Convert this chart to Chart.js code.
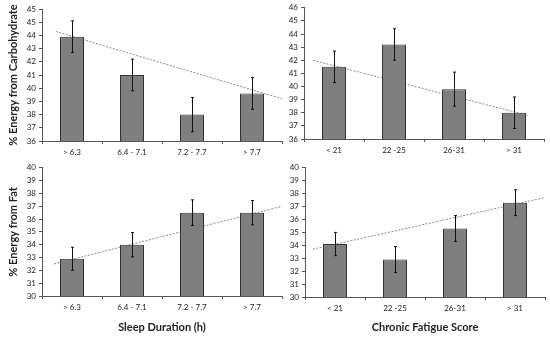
<!DOCTYPE html>
<html>
<head>
<meta charset="utf-8">
<script src="https://cdn.jsdelivr.net/npm/chart.js@4.4.0/dist/chart.umd.min.js"></script>
<style>
  body { margin: 0; background: #fff; }
  .box { position: absolute; }
</style>
</head>
<body>
<div class="box" style="left:0;top:0;width:286px;height:160px"><canvas id="c1"></canvas></div>
<div class="box" style="left:282px;top:0;width:268px;height:160px"><canvas id="c2"></canvas></div>
<div class="box" style="left:0;top:160px;width:286px;height:178px"><canvas id="c3"></canvas></div>
<div class="box" style="left:282px;top:160px;width:268px;height:178px"><canvas id="c4"></canvas></div>
<script>
// categories
const sleepCats = ["> 6.3", "6.4 - 7.1", "7.2 - 7.7", "> 7.7"];
const fatigueCats = ["< 21", "22 -25", "26-31", "> 31"];

// % energy from carbohydrate
const carbSleep = [43.9, 41.0, 38.0, 39.6];
const carbSleepErr = [1.2, 1.2, 1.3, 1.2];
const carbSleepTrend = [{ x: -0.27, y: 44.3 }, { x: 3.5, y: 39.2 }];
const carbFatigue = [41.5, 43.2, 39.8, 38.0];
const carbFatigueErr = [1.2, 1.2, 1.3, 1.2];
const carbFatigueTrend = [{ x: -0.35, y: 42.0 }, { x: 3.23, y: 37.8 }];

// % energy from fat
const fatSleep = [32.9, 34.0, 36.5, 36.5];
const fatSleepErr = [0.9, 0.95, 1.0, 0.95];
const fatSleepTrend = [{ x: -0.3, y: 32.5 }, { x: 3.5, y: 37.0 }];
const fatFatigue = [34.1, 32.9, 35.3, 37.3];
const fatFatigueErr = [0.9, 1.0, 1.0, 1.0];
const fatFatigueTrend = [{ x: -0.37, y: 33.7 }, { x: 3.5, y: 37.7 }];

// y tick labels (as printed)
const carbTicksLeft = ["36", "37", "38", "39", "40", "41", "42", "43", "44", "45", "45"];
const carbTicksRight = ["36", "37", "38", "39", "40", "41", "42", "43", "44", "45", "46"];
const fatTicks = ["30", "31", "32", "33", "34", "35", "36", "37", "38", "39", "40"];

const tickFont = { family: "Lato", size: 8 };
const titleFont = { family: "Lato", size: 11, weight: "bold" };

const errorBars = {
  id: "errorBars",
  afterDatasetsDraw(chart) {
    const errs = chart.options.plugins.errorBars.errs;
    const meta = chart.getDatasetMeta(0);
    const yScale = chart.scales.y;
    const ctx = chart.ctx;
    ctx.save();
    ctx.strokeStyle = "#111";
    ctx.lineWidth = 1;
    meta.data.forEach((bar, i) => {
      const v = chart.data.datasets[0].data[i];
      const x = Math.round(bar.x) + 0.5;
      const top = yScale.getPixelForValue(v + errs[i]);
      const bot = yScale.getPixelForValue(v - errs[i]);
      ctx.beginPath();
      ctx.moveTo(x, top);
      ctx.lineTo(x, bot);
      ctx.moveTo(x - 1.5, top);
      ctx.lineTo(x + 1.5, top);
      ctx.moveTo(x - 1.5, bot);
      ctx.lineTo(x + 1.5, bot);
      ctx.stroke();
    });
    ctx.restore();
  },
};

function makeChart(id, cats, values, errs, trend, yMin, yMax, yLabels, opts) {
  new Chart(document.getElementById(id), {
    type: "bar",
    data: {
      labels: cats,
      datasets: [
        {
          data: values,
          backgroundColor: "#7f7f7f",
          borderColor: "#333",
          borderWidth: 1,
          barPercentage: 0.4,
          categoryPercentage: 1,
          grouped: false,
          order: 1,
        },
        {
          type: "line",
          data: trend,
          xAxisID: "x2",
          borderColor: "#8a8a8a",
          borderWidth: 1,
          borderDash: [2, 1.5],
          pointRadius: 0,
          fill: false,
          order: 2,
        },
      ],
    },
    options: {
      responsive: true,
      maintainAspectRatio: false,
      animation: false,
      layout: { padding: opts.padding },
      plugins: {
        legend: { display: false },
        tooltip: { enabled: false },
        errorBars: { errs: errs },
      },
      scales: {
        x: {
          offset: true,
          grid: { display: true, offset: true, drawOnChartArea: false, drawTicks: true, tickLength: 3, color: "#555" },
          border: { display: true, color: "#555", width: 1 },
          ticks: { font: tickFont, color: "#222", padding: 4, maxRotation: 0 },
          title: {
            display: !!opts.xTitle,
            text: opts.xTitle || "",
            font: titleFont,
            color: "#222",
            padding: { top: 6, bottom: 4 },
          },
          afterFit(s) { s.height = opts.xHeight; },
        },
        x2: {
          type: "linear",
          display: false,
          offset: false,
          grid: { offset: false },
          min: -0.5,
          max: 3.5,
        },
        y: {
          min: yMin,
          max: yMax,
          grid: { display: true, drawOnChartArea: false, drawTicks: true, tickLength: 3, color: "#555" },
          border: { display: true, color: "#555", width: 1 },
          ticks: {
            stepSize: 1,
            font: tickFont,
            color: "#222",
            padding: 3,
            callback: (v) => yLabels[Math.round(v - yMin)],
          },
          title: {
            display: !!opts.yTitle,
            text: opts.yTitle || "",
            font: titleFont,
            color: "#222",
            padding: { top: 7, bottom: 0 },
          },
          afterFit(s) { s.width = opts.yWidth; },
        },
      },
    },
    plugins: [errorBars],
  });
}

makeChart("c1", sleepCats, carbSleep, carbSleepErr, carbSleepTrend, 36, 46, carbTicksLeft, {
  padding: { top: 9, right: 4, left: 0, bottom: 0 },
  xHeight: 19, yWidth: 42, yTitle: "% Energy from Carbohydrate",
});
makeChart("c2", fatigueCats, carbFatigue, carbFatigueErr, carbFatigueTrend, 36, 46, carbTicksRight, {
  padding: { top: 6, right: 6, left: 0, bottom: 0 },
  xHeight: 21, yWidth: 22,
});
makeChart("c3", sleepCats, fatSleep, fatSleepErr, fatSleepTrend, 30, 40, fatTicks, {
  padding: { top: 4, right: 4, left: 0, bottom: 0 },
  xHeight: 42, yWidth: 42, yTitle: "% Energy from Fat", xTitle: "Sleep Duration (h)",
});
makeChart("c4", fatigueCats, fatFatigue, fatFatigueErr, fatFatigueTrend, 30, 40, fatTicks, {
  padding: { top: 5, right: 5, left: 0, bottom: 0 },
  xHeight: 41, yWidth: 23, xTitle: "Chronic Fatigue Score",
});
</script>
</body>
</html>
